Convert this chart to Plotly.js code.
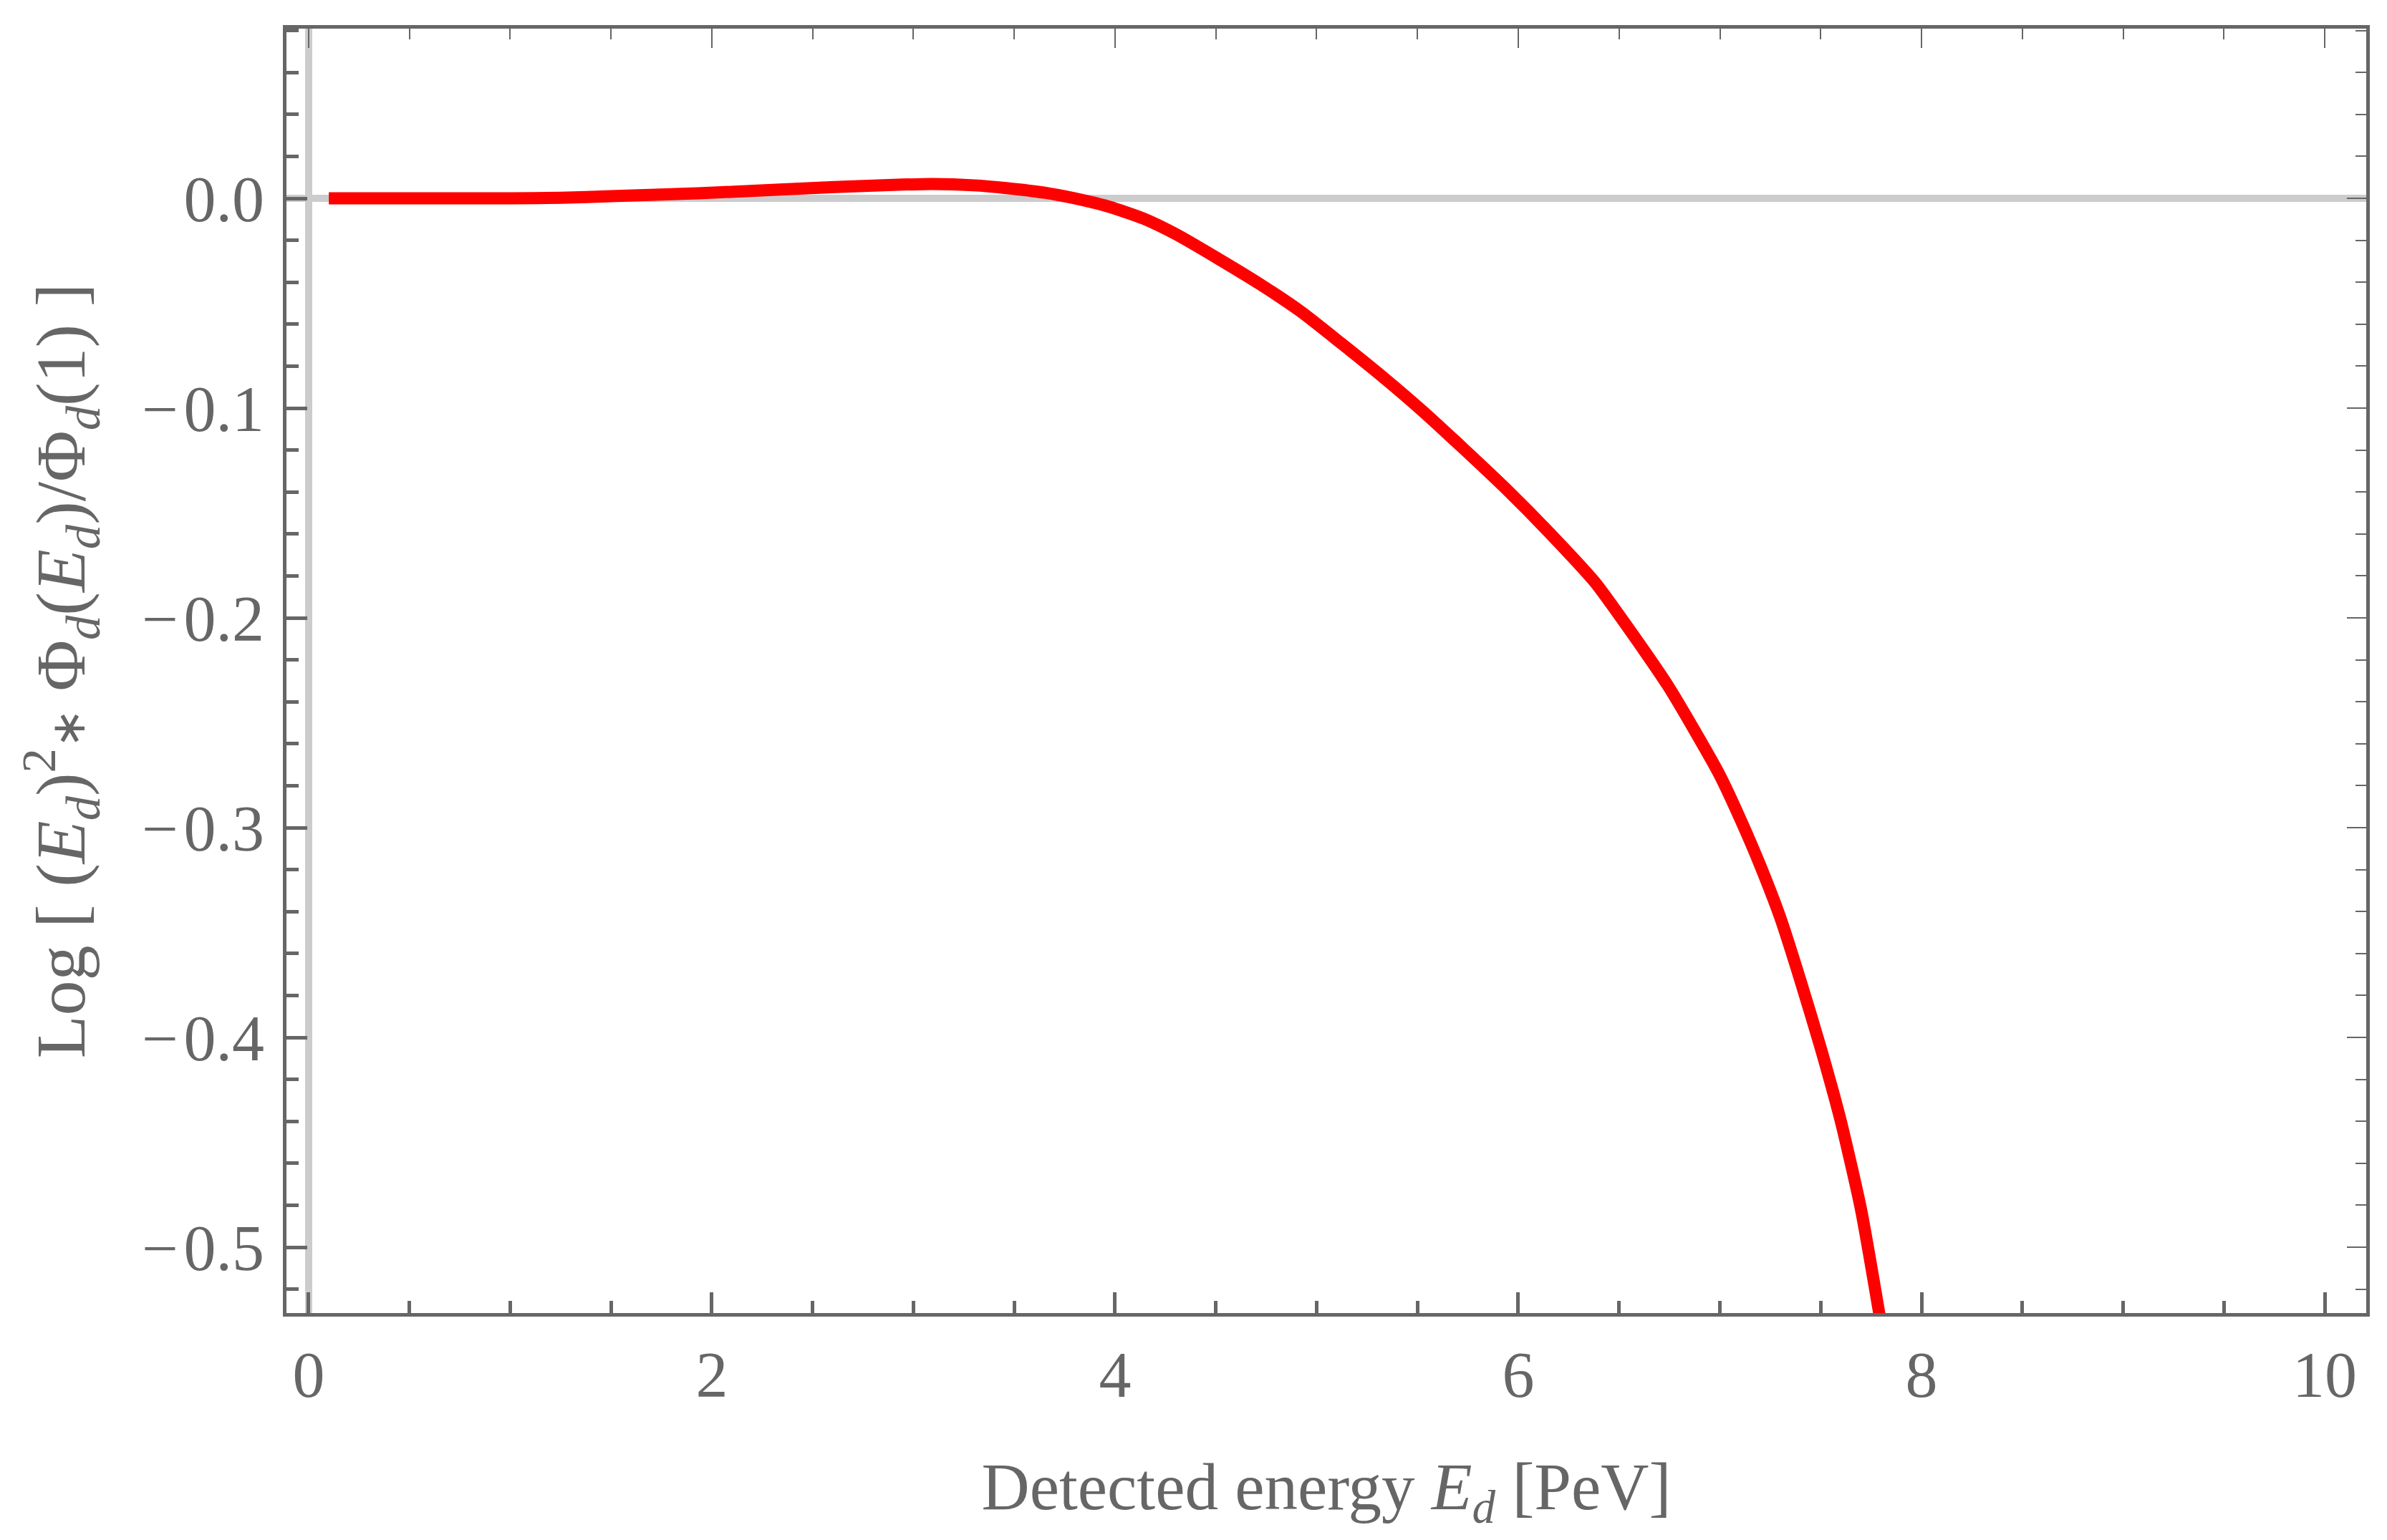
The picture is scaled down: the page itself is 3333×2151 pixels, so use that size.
<!DOCTYPE html>
<html>
<head>
<meta charset="utf-8">
<script src="https://cdn.plot.ly/plotly-3.0.1.min.js"></script>
<style>
  html, body { margin: 0; padding: 0; background: #fff; }
  #chart { width: 3333px; height: 2151px; }
</style>
</head>
<body>
<div id="chart"></div>
<script>
// detected energy E_d [PeV] and the log ratio
var energy = [0.10, 0.60, 1.00, 1.25, 1.50, 1.93, 2.30, 2.61, 2.90, 3.09, 3.30, 3.46, 3.65, 3.80,
              3.97, 4.14, 4.30, 4.51, 4.72, 4.92, 5.12, 5.33, 5.53, 5.73, 5.95, 6.15, 6.38,
              6.56, 6.74, 6.88, 7.00, 7.10, 7.20, 7.30, 7.40, 7.50, 7.60, 7.70, 7.80];
var logRatio = [0.0000, 0.0000, 0.0000, 0.0003, 0.0010, 0.0024, 0.0040, 0.0054, 0.0064, 0.0068, 0.0062,
                0.0049, 0.0027, 0.0000, -0.0040, -0.0096, -0.0170, -0.0287, -0.0410, -0.0539,
                -0.0690, -0.0853, -0.1018, -0.1195, -0.1395, -0.1590, -0.1830, -0.2068, -0.2320,
                -0.2546, -0.2751, -0.2956, -0.3180, -0.3430, -0.3730, -0.4050, -0.4400, -0.4820, -0.5370];

var xTickVals = [0, 2, 4, 6, 8, 10];
var xTickText = ['0', '2', '4', '6', '8', '10'];
var yTickVals = [0.0, -0.1, -0.2, -0.3, -0.4, -0.5];
var yTickText = ['0.0', '\u2212\u200a0.1', '\u2212\u200a0.2', '\u2212\u200a0.3', '\u2212\u200a0.4', '\u2212\u200a0.5'];

var xRange = [-0.110, 10.206];
var yRange = [-0.5314, 0.0809];

var grey = '#666666';
var font = 'Liberation Serif, Times New Roman, serif';

var curve = {
  type: 'scatter',
  mode: 'lines',
  x: energy,
  y: logRatio,
  line: { color: '#ff0000', width: 17, shape: 'spline', smoothing: 0.6 },
  hoverinfo: 'skip',
  showlegend: false
};
// same data on the mirror axes, not drawn, so the top/right axes exist
var mirrorTrace = {
  type: 'scatter',
  mode: 'lines',
  x: energy,
  y: logRatio,
  xaxis: 'x2',
  yaxis: 'y2',
  line: { color: 'rgba(0,0,0,0)', width: 0 },
  hoverinfo: 'skip',
  showlegend: false
};

var layout = {
  width: 3333,
  height: 2151,
  margin: { l: 400, r: 29, t: 40, b: 317 },
  paper_bgcolor: '#ffffff',
  plot_bgcolor: '#ffffff',
  font: { family: font, color: grey, size: 90 },
  showlegend: false,
  xaxis: {
    range: xRange,
    showgrid: false,
    zeroline: true,
    zerolinecolor: '#cccccc',
    zerolinewidth: 10,
    showline: true,
    linecolor: grey,
    linewidth: 5,
    ticks: 'inside',
    ticklen: 29,
    tickwidth: 5,
    tickcolor: grey,
    tickmode: 'array',
    tickvals: xTickVals,
    ticktext: xTickText,
    ticklabelstandoff: 4,
    tickfont: { family: font, size: 90, color: grey },
    minor: { dtick: 0.5, tick0: 0, ticks: 'inside', ticklen: 17, tickwidth: 5, tickcolor: grey, showgrid: false },
    title: {
      text: 'Detected energy <i>E</i><sub><i>d</i></sub> [PeV]',
      font: { family: font, size: 93, color: grey },
      standoff: 75
    }
  },
  yaxis: {
    range: yRange,
    showgrid: false,
    zeroline: true,
    zerolinecolor: '#cccccc',
    zerolinewidth: 10,
    showline: true,
    linecolor: grey,
    linewidth: 5,
    ticks: 'inside',
    ticklen: 29,
    tickwidth: 5,
    tickcolor: grey,
    tickmode: 'array',
    tickvals: yTickVals,
    ticktext: yTickText,
    ticklabelstandoff: 8,
    tickfont: { family: font, size: 90, color: grey },
    minor: { dtick: 0.02, tick0: 0, ticks: 'inside', ticklen: 17, tickwidth: 5, tickcolor: grey, showgrid: false },
    title: {
      text: 'Log [ (<i>E</i><sub><i>d</i></sub>)<sup>2</sup><span style="font-size:66px">\u2217</span> \u03a6<sub><i>d</i></sub>(<i>E</i><sub><i>d</i></sub>)/\u03a6<sub><i>d</i></sub>(1) ]',
      font: { family: font, size: 98, color: grey },
      standoff: 48
    }
  },
  xaxis2: {
    overlaying: 'x',
    matches: 'x',
    side: 'top',
    anchor: 'y2',
    range: xRange,
    showgrid: false,
    zeroline: false,
    showline: true,
    linecolor: grey,
    linewidth: 5,
    ticks: 'inside',
    ticklen: 27,
    tickwidth: 2,
    tickcolor: grey,
    tickmode: 'array',
    tickvals: xTickVals,
    showticklabels: false,
    minor: { dtick: 0.5, tick0: 0, ticks: 'inside', ticklen: 15, tickwidth: 2, tickcolor: grey, showgrid: false }
  },
  yaxis2: {
    overlaying: 'y',
    matches: 'y',
    side: 'right',
    anchor: 'x2',
    range: yRange,
    showgrid: false,
    zeroline: false,
    showline: true,
    linecolor: grey,
    linewidth: 5,
    ticks: 'inside',
    ticklen: 27,
    tickwidth: 2,
    tickcolor: grey,
    tickmode: 'array',
    tickvals: yTickVals,
    showticklabels: false,
    minor: { dtick: 0.02, tick0: 0, ticks: 'inside', ticklen: 15, tickwidth: 2, tickcolor: grey, showgrid: false }
  }
};

Plotly.newPlot('chart', [curve, mirrorTrace], layout, { displayModeBar: false, staticPlot: true });
</script>
</body>
</html>
